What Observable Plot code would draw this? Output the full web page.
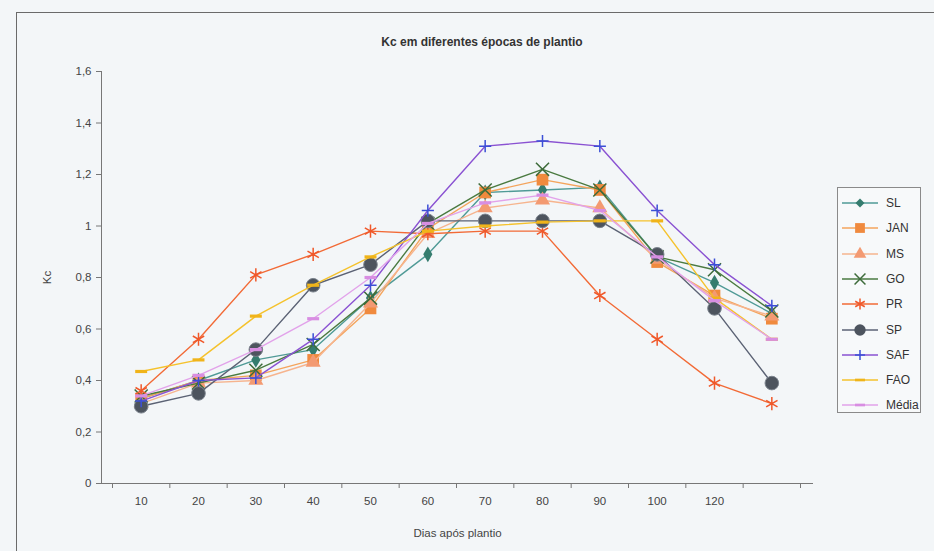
<!DOCTYPE html>
<html>
<head>
<meta charset="utf-8">
<script src="https://cdn.jsdelivr.net/npm/d3@7"></script>
<script src="https://cdn.jsdelivr.net/npm/@observablehq/plot@0.6"></script>
<style>
  html, body { margin: 0; padding: 0; background: #f3f6f8; }
  #wrap { position: relative; width: 934px; height: 551px; overflow: hidden; font-family: "Liberation Sans", Arial, sans-serif; }
  #border { position: absolute; left: 16px; top: 12px; width: 940px; height: 560px; border-top: 1px solid #6a6a6a; border-left: 1px solid #6a6a6a; box-sizing: border-box; }
  #title { position: absolute; left: 0; width: 964px; top: 35px; text-align: center; font-size: 12px; font-weight: bold; color: #333; }
  #chart { position: absolute; left: 0; top: 0; }
  #legend { position: absolute; left: 837px; top: 187px; width: 84px; height: 226px; border: 1px solid #8a8a8a; box-sizing: border-box; background: #f7f9fa; }
  .row { position: absolute; left: 0; height: 20px; display: flex; align-items: center; }
  .row span { font-size: 12px; color: #333; margin-left: 4px; }
</style>
</head>
<body>
<div id="wrap">
  <div id="border"></div>
  <div id="chart"></div>
  <div id="title">Kc em diferentes épocas de plantio</div>
  <div id="legend"></div>
</div>
<script>
// ---- data ----
const xIndex = [1, 2, 3, 4, 5, 6, 7, 8, 9, 10, 11, 12];
const xLabels = ["10", "20", "30", "40", "50", "60", "70", "80", "90", "100", "120"];
const yTicks = [0, 0.2, 0.4, 0.6, 0.8, 1, 1.2, 1.4, 1.6];
const seriesNames = ["SL", "JAN", "MS", "GO", "PR", "SP", "SAF", "FAO", "Média"];
const SL    = [0.33, 0.40, 0.48, 0.52, 0.72, 0.89, 1.13, 1.14, 1.15, 0.88, 0.78, 0.66];
const JAN   = [0.33, 0.40, 0.42, 0.48, 0.68, 0.99, 1.13, 1.18, 1.14, 0.86, 0.73, 0.64];
const MS    = [0.31, 0.39, 0.40, 0.47, 0.70, 0.97, 1.07, 1.10, 1.07, 0.87, 0.72, 0.65];
const GO    = [0.34, 0.39, 0.44, 0.54, 0.72, 1.01, 1.14, 1.22, 1.14, 0.88, 0.83, 0.67];
const PR    = [0.36, 0.56, 0.81, 0.89, 0.98, 0.97, 0.98, 0.98, 0.73, 0.56, 0.39, 0.31];
const SP    = [0.30, 0.35, 0.52, 0.77, 0.85, 1.02, 1.02, 1.02, 1.02, 0.89, 0.68, 0.39];
const SAF   = [0.32, 0.40, 0.41, 0.56, 0.77, 1.06, 1.31, 1.33, 1.31, 1.06, 0.85, 0.69];
const FAO   = [0.435, 0.48, 0.65, 0.77, 0.88, 0.98, 1.00, 1.015, 1.02, 1.02, 0.72, 0.56];
const Media = [0.34, 0.42, 0.52, 0.64, 0.80, 1.01, 1.09, 1.12, 1.06, 0.88, 0.71, 0.56];
const seriesValues = [SL, JAN, MS, GO, PR, SP, SAF, FAO, Media];

// ---- styles ----
const dash = {
  draw(ctx, size) {
    const w = Math.sqrt(size) * 0.75, h = Math.sqrt(size) * 0.2;
    ctx.moveTo(-w, -h); ctx.lineTo(w, -h); ctx.lineTo(w, h); ctx.lineTo(-w, h); ctx.closePath();
  }
};
const styles = {
  "SL":    {line: "#4f9a96", marker: "#357c6e", symbol: "diamond",  r: 4.8, filled: true},
  "JAN":   {line: "#f4a45c", marker: "#f08a3e", symbol: "square",   r: 6.6, filled: true},
  "MS":    {line: "#f6b48e", marker: "#f39a72", symbol: "triangle", r: 5.6, filled: true},
  "GO":    {line: "#4a7a40", marker: "#3d6b3a", symbol: "times",    r: 6.0, filled: false},
  "PR":    {line: "#f26a36", marker: "#f0582a", symbol: "asterisk", r: 6.2, filled: false},
  "SP":    {line: "#5b6274", marker: "#4d545e", symbol: "circle",   r: 6.8, filled: true},
  "SAF":   {line: "#8a52d2", marker: "#3b4fd6", symbol: "plus",     r: 4.0, filled: false},
  "FAO":   {line: "#f5c22c", marker: "#f0b41a", symbol: dash,       r: 4.5, filled: true},
  "Média": {line: "#e2a2ea", marker: "#d88ee2", symbol: dash,       r: 4.5, filled: true}
};

const table = seriesNames.flatMap((name, s) =>
  seriesValues[s].map((v, i) => ({series: name, x: xIndex[i], y: v})));

const seriesMarks = seriesNames.flatMap(name => {
  const st = styles[name];
  const data = table.filter(d => d.series === name);
  return [
    Plot.line(data, {x: "x", y: "y", stroke: st.line, strokeWidth: 1.4}),
    Plot.dot(data, st.filled
      ? {x: "x", y: "y", symbol: st.symbol, r: st.r, fill: st.marker, stroke: name === "SP" ? "#7a828c" : "none", strokeWidth: 1}
      : {x: "x", y: "y", symbol: st.symbol, r: st.r, fill: "none", stroke: st.marker, strokeWidth: 1.5})
  ];
});

const boundaries = d3.range(0.5, 13, 1);
const centers = xIndex.slice(0, xLabels.length);
const fmt = d => String(d).replace(".", ",");

const chart = Plot.plot({
  width: 934,
  height: 551,
  marginTop: 71,
  marginBottom: 68,
  marginLeft: 101,
  marginRight: 121,
  insetLeft: 11,
  insetRight: 13,
  style: {background: "transparent", fontFamily: "'Liberation Sans', Arial, sans-serif", fontSize: "11.5px", color: "#444"},
  x: {domain: [0.5, 12.5]},
  y: {domain: [0, 1.6]},
  marks: [
    Plot.frame({anchor: "left", stroke: "#777"}),
    Plot.ruleY([0], {stroke: "#777", strokeWidth: 1.2}),
    Plot.axisY({ticks: yTicks, tickFormat: fmt, tickSize: 5, tickPadding: 5, stroke: "#777",
      label: "Kc", labelAnchor: "center", labelOffset: 59, labelArrow: "none"}),
    Plot.axisX({ticks: boundaries, tickSize: 5, tickFormat: () => "", stroke: "#777", label: null}),
    Plot.axisX({ticks: centers, tickSize: 0, tickPadding: 13, tickFormat: i => xLabels[i - 1],
      label: "Dias após plantio", labelAnchor: "center", labelOffset: 53, labelArrow: "none"}),
    ...seriesMarks
  ]
});
document.getElementById("chart").appendChild(chart);

// ---- legend ----
const legend = d3.select("#legend");
seriesNames.forEach((name, i) => {
  const st = styles[name];
  const row = legend.append("div").attr("class", "row").style("top", (5 + i * 25.3) + "px");
  const svg = row.append("svg").attr("width", 40).attr("height", 20).style("margin-left", "4px");
  svg.append("line").attr("x1", 0).attr("x2", 36).attr("y1", 10).attr("y2", 10)
    .attr("stroke", st.line).attr("stroke-width", 1.4);
  const type = typeof st.symbol === "string"
    ? {diamond: d3.symbolDiamond2, square: d3.symbolSquare, triangle: d3.symbolTriangle, times: d3.symbolTimes,
       asterisk: d3.symbolAsterisk, circle: d3.symbolCircle, plus: d3.symbolPlus}[st.symbol]
    : st.symbol;
  const size = Math.PI * st.r * st.r * 0.7;
  svg.append("path").attr("transform", "translate(18,10)").attr("d", d3.symbol(type, size)())
    .attr("fill", st.filled ? st.marker : "none")
    .attr("stroke", st.filled ? "none" : st.marker).attr("stroke-width", 1.5);
  row.append("span").text(name);
});
</script>
</body>
</html>
